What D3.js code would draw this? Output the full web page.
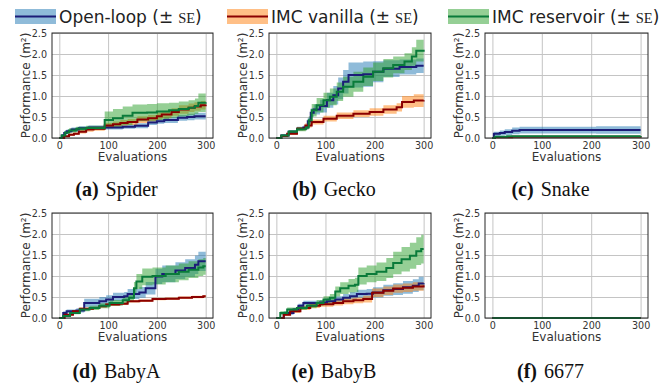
<!DOCTYPE html>
<html>
<head>
<meta charset="utf-8">
<script src="https://cdn.jsdelivr.net/npm/d3@7"></script>
<style>
  body { margin: 0; background: #fff; }
  text { font-family: "DejaVu Sans", sans-serif; }
</style>
</head>
<body>
<svg id="chart" width="666" height="385"></svg>
<script>
// Panels, in reading order
const robots = ["Spider", "Gecko", "Snake", "BabyA", "BabyB", "6677"];
const letters = ["a", "b", "c", "d", "e", "f"];
const seriesNames = ["Open-loop", "IMC vanilla", "IMC reservoir"];
const xTicks = [0, 100, 200, 300];
const yTicks = [0, 0.5, 1.0, 1.5, 2.0, 2.5];

// [evaluation, mean best performance, standard error]
const spiderOpen = [[0,0,0],[5,0.06,0.03],[10,0.12,0.04],[15,0.16,0.04],[25,0.2,0.05],[40,0.23,0.05],[60,0.25,0.05],[130,0.27,0.05],[155,0.29,0.06],[182,0.37,0.06],[200,0.4,0.06],[215,0.43,0.07],[243,0.48,0.07],[262,0.5,0.08],[277,0.52,0.08],[300,0.52,0.08]];
const spiderVanilla = [[0,0,0],[10,0.04,0.02],[20,0.08,0.03],[30,0.1,0.03],[40,0.15,0.04],[55,0.2,0.05],[70,0.22,0.05],[93,0.3,0.06],[110,0.33,0.06],[125,0.36,0.07],[140,0.38,0.07],[160,0.44,0.08],[182,0.47,0.08],[200,0.52,0.08],[210,0.56,0.09],[230,0.62,0.09],[245,0.68,0.1],[265,0.72,0.1],[277,0.75,0.1],[290,0.78,0.1],[300,0.8,0.1]];
const spiderReservoir = [[0,0,0],[5,0.06,0.03],[12,0.13,0.04],[20,0.18,0.05],[35,0.22,0.05],[55,0.24,0.05],[93,0.43,0.2],[110,0.47,0.22],[130,0.53,0.22],[150,0.6,0.2],[180,0.61,0.2],[200,0.63,0.2],[225,0.66,0.18],[245,0.69,0.18],[265,0.72,0.18],[278,0.76,0.18],[285,0.84,0.22],[300,0.85,0.2]];

const geckoOpen = [[0,0,0],[10,0.06,0.03],[25,0.15,0.04],[42,0.22,0.05],[55,0.25,0.05],[64,0.4,0.08],[70,0.6,0.1],[76,0.68,0.12],[89,0.76,0.15],[103,0.9,0.18],[116,1.02,0.22],[126,1.18,0.26],[136,1.34,0.28],[147,1.5,0.3],[177,1.52,0.3],[197,1.58,0.25],[218,1.65,0.2],[251,1.69,0.18],[285,1.72,0.17],[300,1.72,0.17]];
const geckoVanilla = [[0,0,0],[10,0.05,0.02],[22,0.1,0.03],[42,0.22,0.04],[59,0.3,0.05],[72,0.38,0.06],[96,0.46,0.07],[123,0.53,0.08],[157,0.58,0.08],[190,0.62,0.09],[218,0.68,0.1],[245,0.73,0.1],[256,0.86,0.14],[280,0.89,0.15],[300,0.9,0.15]];
const geckoReservoir = [[0,0,0],[10,0.06,0.03],[25,0.15,0.04],[42,0.21,0.05],[60,0.25,0.05],[66,0.42,0.1],[72,0.66,0.15],[82,0.78,0.17],[96,0.9,0.18],[109,0.98,0.2],[123,1.1,0.22],[136,1.22,0.24],[157,1.34,0.24],[177,1.46,0.22],[197,1.58,0.22],[218,1.66,0.22],[238,1.74,0.2],[261,1.82,0.2],[276,1.94,0.22],[285,2.08,0.26],[300,2.1,0.25]];

const snakeOpen = [[0,0,0],[3,0.1,0.05],[15,0.12,0.06],[25,0.14,0.07],[40,0.17,0.08],[55,0.19,0.08],[210,0.19,0.09],[300,0.19,0.09]];
const snakeVanilla = [[0,0,0],[5,0.02,0.01],[40,0.03,0.01],[300,0.04,0.01]];
const snakeReservoir = [[0,0,0],[5,0.03,0.01],[30,0.04,0.01],[300,0.05,0.01]];

const babyAOpen = [[0,0,0],[8,0.12,0.04],[15,0.16,0.04],[35,0.18,0.05],[51,0.36,0.1],[82,0.4,0.1],[96,0.44,0.1],[110,0.5,0.1],[133,0.52,0.1],[140,0.57,0.12],[164,0.61,0.13],[177,0.71,0.15],[197,0.99,0.18],[211,1.05,0.2],[238,1.13,0.2],[258,1.19,0.21],[278,1.27,0.22],[285,1.35,0.23],[300,1.35,0.23]];
const babyAVanilla = [[0,0,0],[11,0.08,0.02],[28,0.16,0.03],[42,0.22,0.03],[69,0.24,0.03],[82,0.28,0.03],[96,0.32,0.03],[123,0.34,0.03],[140,0.4,0.03],[164,0.41,0.03],[191,0.45,0.03],[218,0.46,0.03],[245,0.48,0.03],[272,0.5,0.03],[295,0.52,0.03],[300,0.52,0.03]];
const babyAReservoir = [[0,0,0],[8,0.05,0.02],[22,0.12,0.03],[42,0.2,0.04],[62,0.24,0.05],[82,0.29,0.06],[103,0.36,0.07],[130,0.42,0.08],[143,0.48,0.1],[153,0.71,0.15],[158,0.87,0.18],[170,0.98,0.2],[191,1.0,0.2],[218,1.05,0.2],[245,1.1,0.2],[265,1.15,0.2],[285,1.2,0.2],[295,1.23,0.2],[300,1.23,0.2]];

const babyBOpen = [[0,0,0],[15,0.12,0.04],[35,0.2,0.04],[45,0.29,0.05],[55,0.36,0.05],[89,0.37,0.06],[103,0.4,0.07],[120,0.44,0.08],[136,0.48,0.09],[150,0.52,0.1],[164,0.57,0.1],[184,0.58,0.11],[197,0.61,0.12],[218,0.66,0.13],[238,0.69,0.14],[258,0.73,0.15],[278,0.77,0.15],[290,0.82,0.16],[300,0.83,0.16]];
const babyBVanilla = [[0,0,0],[15,0.08,0.03],[28,0.16,0.04],[49,0.24,0.05],[69,0.29,0.05],[89,0.33,0.06],[116,0.36,0.06],[136,0.4,0.07],[157,0.42,0.07],[177,0.45,0.08],[195,0.6,0.1],[218,0.65,0.1],[238,0.7,0.1],[258,0.72,0.1],[278,0.75,0.1],[300,0.78,0.1]];
const babyBReservoir = [[0,0,0],[8,0.12,0.04],[22,0.2,0.05],[42,0.24,0.05],[62,0.29,0.06],[82,0.36,0.07],[96,0.44,0.08],[109,0.48,0.09],[120,0.63,0.12],[130,0.71,0.14],[147,0.77,0.16],[160,0.79,0.17],[167,1.0,0.2],[184,1.05,0.2],[204,1.1,0.22],[224,1.19,0.24],[238,1.31,0.27],[255,1.4,0.29],[272,1.48,0.31],[285,1.59,0.33],[295,1.64,0.34],[300,1.64,0.34]];

const flatOpen = [[0,0,0],[300,0,0]];
const flatVanilla = [[0,0,0],[300,0,0]];
const flatReservoir = [[0,0,0],[300,0,0]];

const panelSeries = [
  [spiderOpen, spiderVanilla, spiderReservoir],
  [geckoOpen, geckoVanilla, geckoReservoir],
  [snakeOpen, snakeVanilla, snakeReservoir],
  [babyAOpen, babyAVanilla, babyAReservoir],
  [babyBOpen, babyBVanilla, babyBReservoir],
  [flatOpen, flatVanilla, flatReservoir]
];

// styles
const bandColors = ["#1f77b4", "#ff7f0e", "#2ca02c"];
const lineColors = ["#1c1c78", "#8b0000", "#0a7b3a"];
const cols = [{ left: 52, right: 213 }, { left: 269, right: 431 }, { left: 485, right: 648 }];
const rows = [{ top: 33, bottom: 138, caption: 196 }, { top: 213, bottom: 318, caption: 378 }];

const svg = d3.select("#chart");

// legend
const legendX = [15, 227, 448];
const legend = svg.append("g");
seriesNames.forEach((name, i) => {
  const lx = legendX[i];
  legend.append("rect")
    .attr("x", lx).attr("y", 9).attr("width", 41).attr("height", 15)
    .attr("fill", bandColors[i]).attr("fill-opacity", 0.5);
  legend.append("line")
    .attr("x1", lx).attr("x2", lx + 41).attr("y1", 16.5).attr("y2", 16.5)
    .attr("stroke", lineColors[i]).attr("stroke-width", 2.2);
  const t = legend.append("text")
    .attr("x", lx + 44).attr("y", 22.5)
    .attr("font-size", 17).attr("fill", "#222");
  t.append("tspan").text(name + " (\u00b1");
  t.append("tspan").attr("dx", 5)
    .attr("font-family", "'Liberation Serif', serif").attr("font-size", 14.5)
    .text("SE");
  t.append("tspan").text(")");
});

robots.forEach((robot, i) => {
  const c = cols[i % 3];
  const r = rows[Math.floor(i / 3)];

  const x = d3.scaleLinear().domain([-15, 315]).range([c.left, c.right]);
  const y = d3.scaleLinear().domain([0, 2.5]).range([r.bottom, r.top]);

  const g = svg.append("g");

  // grid
  g.append("g")
    .attr("transform", `translate(0,${r.bottom})`)
    .call(d3.axisBottom(x).tickValues(xTicks).tickSize(-(r.bottom - r.top)).tickFormat(""))
    .call(a => a.select(".domain").remove())
    .call(a => a.selectAll("line").attr("stroke", "#c4c4c4").attr("stroke-width", 1));
  g.append("g")
    .attr("transform", `translate(${c.left},0)`)
    .call(d3.axisLeft(y).tickValues(yTicks).tickSize(-(c.right - c.left)).tickFormat(""))
    .call(a => a.select(".domain").remove())
    .call(a => a.selectAll("line").attr("stroke", "#c4c4c4").attr("stroke-width", 1));

  // tick labels
  g.append("g")
    .attr("transform", `translate(0,${r.bottom})`)
    .call(d3.axisBottom(x).tickValues(xTicks).tickSize(0).tickPadding(4))
    .call(a => a.select(".domain").remove())
    .call(a => a.selectAll("text").attr("font-size", 9.6).attr("fill", "#333")
      .attr("font-family", "DejaVu Sans"));
  g.append("g")
    .attr("transform", `translate(${c.left},0)`)
    .call(d3.axisLeft(y).tickValues(yTicks).tickSize(0).tickPadding(5).tickFormat(d3.format(".1f")))
    .call(a => a.select(".domain").remove())
    .call(a => a.selectAll("text").attr("font-size", 9.6).attr("fill", "#333")
      .attr("font-family", "DejaVu Sans"));

  const area = d3.area()
    .x(d => x(d[0]))
    .y0(d => y(Math.max(0, d[1] - d[2])))
    .y1(d => y(d[1] + d[2]))
    .curve(d3.curveStepAfter);
  const line = d3.line()
    .x(d => x(d[0]))
    .y(d => y(d[1]))
    .curve(d3.curveStepAfter);

  panelSeries[i].forEach((data, k) => {
    g.append("path").attr("d", area(data))
      .attr("fill", bandColors[k]).attr("fill-opacity", 0.5);
  });
  panelSeries[i].forEach((data, k) => {
    g.append("path").attr("d", line(data))
      .attr("fill", "none").attr("stroke", lineColors[k]).attr("stroke-width", 2);
  });

  // frame
  g.append("rect")
    .attr("x", c.left).attr("y", r.top)
    .attr("width", c.right - c.left).attr("height", r.bottom - r.top)
    .attr("fill", "none").attr("stroke", "#262626").attr("stroke-width", 1);

  // axis titles
  g.append("text")
    .attr("x", (c.left + c.right) / 2).attr("y", r.bottom + 23)
    .attr("text-anchor", "middle").attr("font-size", 12).attr("fill", "#333")
    .text("Evaluations");
  g.append("text")
    .attr("transform", `translate(${c.left - 22},${(r.top + r.bottom) / 2}) rotate(-90)`)
    .attr("text-anchor", "middle").attr("font-size", 12).attr("fill", "#333")
    .text("Performance (m\u00b2)");

  // subfigure caption
  const cap = g.append("text")
    .attr("x", (c.left + c.right) / 2 - 16).attr("y", r.caption)
    .attr("text-anchor", "middle").attr("font-size", 20).attr("fill", "#111")
    .style("font-family", "'Liberation Serif', 'Times New Roman', serif");
  cap.append("tspan").attr("font-weight", "bold").text(`(${letters[i]})`);
  cap.append("tspan").attr("dx", 7).text(robot);
});
</script>
</body>
</html>
